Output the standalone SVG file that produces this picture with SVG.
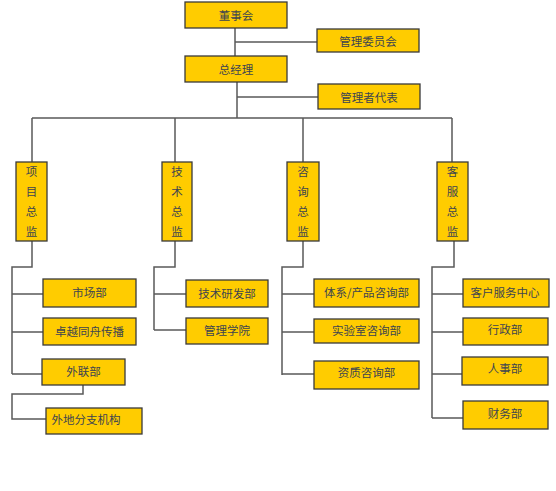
<svg xmlns="http://www.w3.org/2000/svg" width="556" height="491" viewBox="0 0 556 491">
<style>
.box{fill:#FFCC00;stroke:#3a3a3a;stroke-width:1.3}
.t{font-family:"Noto Sans CJK SC","Noto Sans",sans-serif;font-size:11.5px;fill:#3d4450;text-anchor:middle;dominant-baseline:central}
.ln{fill:none;stroke:#5a5a5a;stroke-width:1.5}
</style>
<rect width="556" height="491" fill="#fff"/>
<g id="connectors" class="ln">
<path d="M235,28V56M235,42H317"/>
<path d="M237,82V118M237,97H318"/>
<path d="M32,118H452M32,118V162M175,118V162M303,118V162M452,118V162"/>
<path d="M32,241V267H12V374M12,294H43M12,332H43M12,374H42"/>
<path d="M83,385V394H12V419H46"/>
<path d="M175,241V267H154V330M154,294H186M154,330H186"/>
<path d="M303,241V267H282V375M282,294H314M282,332H314M282,374H314"/>
<path d="M454,241V267H432V418M432,294H463M432,332H463M432,374H462M432,418H463"/>
</g>
<g id="n1"><rect class="box" x="185" y="2" width="102" height="26"/><text class="t" x="236" y="15">董事会</text></g>
<g id="n2"><rect class="box" x="317" y="29" width="102" height="23"/><text class="t" x="368" y="40.5">管理委员会</text></g>
<g id="n3"><rect class="box" x="185" y="56" width="102" height="26"/><text class="t" x="236" y="69">总经理</text></g>
<g id="n4"><rect class="box" x="318" y="84" width="102" height="25"/><text class="t" x="369" y="96.5">管理者代表</text></g>
<g id="d1"><rect class="box" x="16" y="162" width="31" height="79"/><text class="t" x="31.5" y="171">项</text><text class="t" x="31.5" y="191">目</text><text class="t" x="31.5" y="211">总</text><text class="t" x="31.5" y="231">监</text></g>
<g id="d2"><rect class="box" x="162" y="162" width="30" height="79"/><text class="t" x="177" y="171">技</text><text class="t" x="177" y="191">术</text><text class="t" x="177" y="211">总</text><text class="t" x="177" y="231">监</text></g>
<g id="d3"><rect class="box" x="287" y="162" width="32" height="79"/><text class="t" x="303" y="171">咨</text><text class="t" x="303" y="191">询</text><text class="t" x="303" y="211">总</text><text class="t" x="303" y="231">监</text></g>
<g id="d4"><rect class="box" x="437" y="162" width="31" height="79"/><text class="t" x="452.5" y="171">客</text><text class="t" x="452.5" y="191">服</text><text class="t" x="452.5" y="211">总</text><text class="t" x="452.5" y="231">监</text></g>
<g id="a1"><rect class="box" x="43" y="279" width="93" height="28"/><text class="t" x="89.5" y="292">市场部</text></g>
<g id="a2"><rect class="box" x="43" y="318" width="93" height="27"/><text class="t" x="89.5" y="330.5">卓越同舟传播</text></g>
<g id="a3"><rect class="box" x="42" y="359" width="83" height="26"/><text class="t" x="83.5" y="371">外联部</text></g>
<g id="a4"><rect class="box" x="46" y="408" width="96" height="26"/><text class="t" x="86" y="418.5">外地分支机构</text></g>
<g id="b1"><rect class="box" x="186" y="280" width="82" height="27"/><text class="t" x="227" y="292.5">技术研发部</text></g>
<g id="b2"><rect class="box" x="186" y="318" width="82" height="26"/><text class="t" x="227" y="329.5">管理学院</text></g>
<g id="c1"><rect class="box" x="314" y="279" width="105" height="28"/><text class="t" x="366.5" y="291.5">体系/产品咨询部</text></g>
<g id="c2"><rect class="box" x="314" y="319" width="105" height="24"/><text class="t" x="366.5" y="330">实验室咨询部</text></g>
<g id="c3"><rect class="box" x="314" y="361" width="105" height="28"/><text class="t" x="366.5" y="371.5">资质咨询部</text></g>
<g id="e1"><rect class="box" x="463" y="279" width="86" height="28"/><text class="t" x="505" y="291.5">客户服务中心</text></g>
<g id="e2"><rect class="box" x="463" y="318" width="85" height="27"/><text class="t" x="505" y="329">行政部</text></g>
<g id="e3"><rect class="box" x="462" y="357" width="86" height="28"/><text class="t" x="505" y="367.5">人事部</text></g>
<g id="e4"><rect class="box" x="463" y="401" width="85" height="28"/><text class="t" x="505" y="413">财务部</text></g>
</svg>
